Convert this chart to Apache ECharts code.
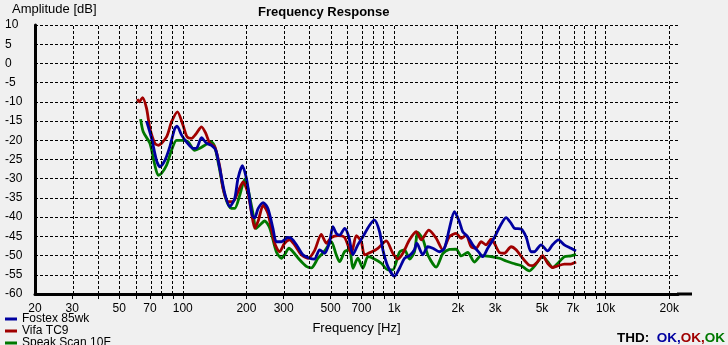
<!DOCTYPE html>
<html>
<head>
<meta charset="utf-8">
<script src="https://cdn.jsdelivr.net/npm/echarts@6/dist/echarts.min.js"></script>
<style>
html,body{margin:0;padding:0;background:#f0f0f0}
#main{width:728px;height:345px}
</style>
</head>
<body>
<div id="main"></div>
<script>
// grid lines and tick labels of the log frequency axis
var gridHz = [30,40,50,60,70,80,90,100,200,300,400,500,600,700,800,900,1000,2000,3000,4000,5000,6000,7000,8000,9000,10000,20000];
var labelHz = [20,30,50,70,100,200,300,500,700,1000,2000,3000,5000,7000,10000,20000];

var fostexHz = [67.4,71.2,75.1,77.9,82.3,86.8,91.7,94,98.6,104,112,116,122.6,129.6,136.7,143.3,149.6,158,166.8,176.1,182.5,191.5,200,205,213,219,227,240,253,267,277,293,314,326,345,370,398,420,444,469,495,513,532,552,583,610,638,673,711,765,807,853,884,933,1003,1060,1119,1182,1247,1279,1366,1442,1523,1637,1729,1825,1927,2035,2110,2228,2352,2529,2622,2770,2978,3144,3382,3572,3702,3982,4204,4440,4602,4948,5318,5614,5974,6376,6860,7244];
var fostexDb = [-15.0,-19.5,-25.2,-26.9,-25.2,-21.7,-16.9,-16.3,-18.6,-20.4,-22.1,-22.1,-19.3,-20.8,-21.3,-22.6,-27.3,-33.8,-37.3,-35.1,-29.9,-26.6,-29.9,-33.5,-39.5,-40.2,-37.8,-36.2,-37.8,-42.9,-46.4,-46.4,-45.3,-45.5,-47.2,-49.8,-50.7,-50.9,-48.5,-49.4,-46.4,-42.5,-44.2,-44.7,-42.9,-45.1,-49.8,-47.2,-45.1,-42.1,-40.8,-43.8,-48.5,-52.8,-55.4,-53.3,-50.7,-50,-48.5,-46.8,-49.8,-47.7,-48.1,-49,-48.1,-42.9,-38.6,-41.2,-43.8,-45.1,-47.2,-49.3,-50.3,-48.1,-45.3,-42.7,-40.1,-41.6,-42.9,-43.1,-45.1,-49,-49,-47.2,-48.8,-47.2,-45.9,-47.2,-48.1,-48.8];

var vifaHz = [60.9,62.2,64.5,67.4,69.9,73.8,76.5,83.8,88.5,94.4,100.3,104.8,110,116,122.6,128.5,134.2,141.7,149.6,155,163.7,172.9,182.5,192.8,203.5,211,219,228,240,253,272,287,303,320,338,364,391,420,452,478,504,542,583,627,662,699,724,779,837,917,985,1040,1099,1182,1271,1342,1458,1580,1698,1825,1964,2074,2188,2312,2442,2578,2722,2874,2978,3144,3320,3572,3772,4052,4324,4518,4770,5036,5318,5614,5864,6376,6860,7244];
var vifaDb = [-9.3,-10.0,-8.9,-11.7,-16.9,-20.8,-21.3,-19.1,-15.2,-12.6,-16.1,-19.1,-19.5,-18.2,-16.5,-18.2,-20.8,-21.7,-26.9,-32.5,-36.0,-36.0,-33.4,-30.8,-33.8,-38.6,-42.9,-40.8,-36.9,-39.1,-46.8,-49,-46.8,-45.9,-47.2,-49.8,-50.7,-48.7,-44.5,-46.8,-45.3,-44.8,-45.3,-49.4,-44.8,-46.4,-49.8,-49.1,-48.1,-46.2,-49.4,-50.9,-49.4,-45.9,-43.8,-45.9,-43.4,-45.5,-48.5,-45.1,-44.2,-45.5,-44.7,-47.7,-48.1,-46.4,-47.2,-45.7,-46.8,-49.2,-49.4,-47.7,-48.5,-50.7,-52.4,-52.6,-51.6,-50,-52,-53.1,-52.8,-52.2,-52.2,-51.7];

var speakHz = [63.2,65,69.9,73.8,76.5,79.3,83.8,88.5,93.4,100.3,106,113.9,120.3,129.6,136.7,141.7,148,158,169.7,176.1,186,196.5,203.5,215.6,222,231,244,258,277,293,303,318,332,357,384,406,436,469,504,532,552,583,615,638,673,711,751,793,869,933,985,1060,1119,1182,1247,1293,1366,1442,1580,1698,1825,1964,2074,2228,2396,2578,2822,3144,3382,3634,3982,4356,4602,5036,5318,5614,6038,6376,6860,7244];
var speakDb = [-14.5,-17.8,-20.8,-26.5,-29.1,-28.6,-26.5,-22.6,-20.0,-20.0,-20.4,-22.6,-22.1,-21.0,-20.4,-21.7,-26.5,-34.3,-37.7,-37.7,-34.3,-30.1,-32.6,-39.5,-43.0,-42.1,-41.0,-42.9,-49.0,-50.7,-49.8,-48.1,-49.0,-51.1,-52.8,-53.2,-50.7,-48.8,-46.4,-49.8,-51.6,-49.0,-48.5,-53.3,-50.7,-53.3,-50.3,-50.7,-52.0,-53.7,-53.7,-49.1,-48.5,-50.9,-49.0,-44.0,-45.7,-49.8,-53.0,-49.5,-48.4,-48.3,-50.1,-49.2,-51.7,-50.0,-50.2,-50.7,-51.4,-52.0,-52.6,-54.0,-52.8,-50.3,-51.6,-53.1,-51.6,-50.3,-50.1,-49.7];

var FONT = '"Liberation Sans", Arial, sans-serif';
var GRID_STYLE = { color: '#000', width: 1, type: [3, 2] };

function lg(v) { return Math.log10(v); }
function pairs(hz, db) {
  return hz.map(function (f, i) { return [lg(f), db[i]]; });
}
function hzLabel(v) {
  var f = Math.round(Math.pow(10, v));
  return f >= 1000 ? (f / 1000) + 'k' : String(f);
}

var chart = echarts.init(document.getElementById('main'));

var option = {
  backgroundColor: '#f0f0f0',
  animation: false,
  title: {
    text: 'Frequency Response',
    left: 258, top: 6, padding: 0,
    textStyle: { fontSize: 13, fontWeight: 'bold', color: '#000', fontFamily: FONT }
  },
  // narrow horizontal legend so that every entry wraps onto its own row
  legend: {
    data: ['Fostex 85wk', 'Vifa TC9', 'Speak Scan 10F'],
    orient: 'horizontal',
    left: 5, top: 313, width: 110, padding: 0,
    icon: 'rect', itemWidth: 12, itemHeight: 3, itemGap: 0,
    textStyle: { fontSize: 12, lineHeight: 10, color: '#000', fontFamily: FONT }
  },
  grid: { left: 35, top: 25, right: 50, bottom: 51 },
  xAxis: {
    type: 'value',
    min: lg(20), max: lg(22000),
    name: 'Frequency [Hz]',
    nameLocation: 'middle',
    nameGap: 28,
    nameTextStyle: { fontSize: 13, color: '#000', fontFamily: FONT },
    axisLine: { show: true, onZero: false, lineStyle: { color: '#000', width: 3 } },
    axisTick: { show: true, length: 5, customValues: gridHz.map(lg), lineStyle: { color: '#000', width: 1 } },
    axisLabel: {
      customValues: labelHz.map(lg),
      formatter: hzLabel,
      margin: 9,
      fontSize: 12, color: '#000', fontFamily: FONT
    },
    splitLine: { show: false }
  },
  yAxis: {
    type: 'value',
    min: -60, max: 10, interval: 5,
    axisLine: { show: true, lineStyle: { color: '#000', width: 3 } },
    axisTick: { show: false },
    axisLabel: { align: 'left', margin: 30, fontSize: 12, color: '#000', fontFamily: FONT },
    splitLine: { show: true, lineStyle: GRID_STYLE }
  },
  graphic: [
    {
      type: 'text', left: 12, top: 3,
      style: { text: 'Amplitude [dB]', font: '13px ' + FONT, fill: '#000' }
    },
    {
      type: 'line', silent: true, z: 10,
      shape: { x1: 677, y1: 294, x2: 692, y2: 294 },
      style: { stroke: '#000', lineWidth: 3 }
    },
    {
      type: 'text', right: 3, top: 331,
      style: {
        text: '{k|THD:}  {b|OK,}{r|OK,}{g|OK}',
        font: 'bold 13.5px ' + FONT,
        rich: {
          k: { fill: '#000', font: 'bold 13.5px ' + FONT },
          b: { fill: '#0000a0', font: 'bold 13.5px ' + FONT },
          r: { fill: '#a00000', font: 'bold 13.5px ' + FONT },
          g: { fill: '#007800', font: 'bold 13.5px ' + FONT }
        }
      }
    }
  ],
  series: [
    {
      name: 'Speak Scan 10F', type: 'line', z: 2,
      data: pairs(speakHz, speakDb),
      showSymbol: false, smooth: 0.25,
      itemStyle: { color: '#007800' },
      lineStyle: { color: '#007800', width: 2.8 },
      markLine: {
        silent: true, symbol: ['none', 'none'],
        label: { show: false },
        lineStyle: GRID_STYLE,
        data: gridHz.map(function (f) { return { xAxis: lg(f) }; })
      }
    },
    {
      name: 'Vifa TC9', type: 'line', z: 3,
      data: pairs(vifaHz, vifaDb),
      showSymbol: false, smooth: 0.25,
      itemStyle: { color: '#a00000' },
      lineStyle: { color: '#a00000', width: 2.8 }
    },
    {
      name: 'Fostex 85wk', type: 'line', z: 4,
      data: pairs(fostexHz, fostexDb),
      showSymbol: false, smooth: 0.25,
      itemStyle: { color: '#0000a0' },
      lineStyle: { color: '#0000a0', width: 2.8 }
    }
  ]
};

chart.setOption(option);
</script>
</body>
</html>
